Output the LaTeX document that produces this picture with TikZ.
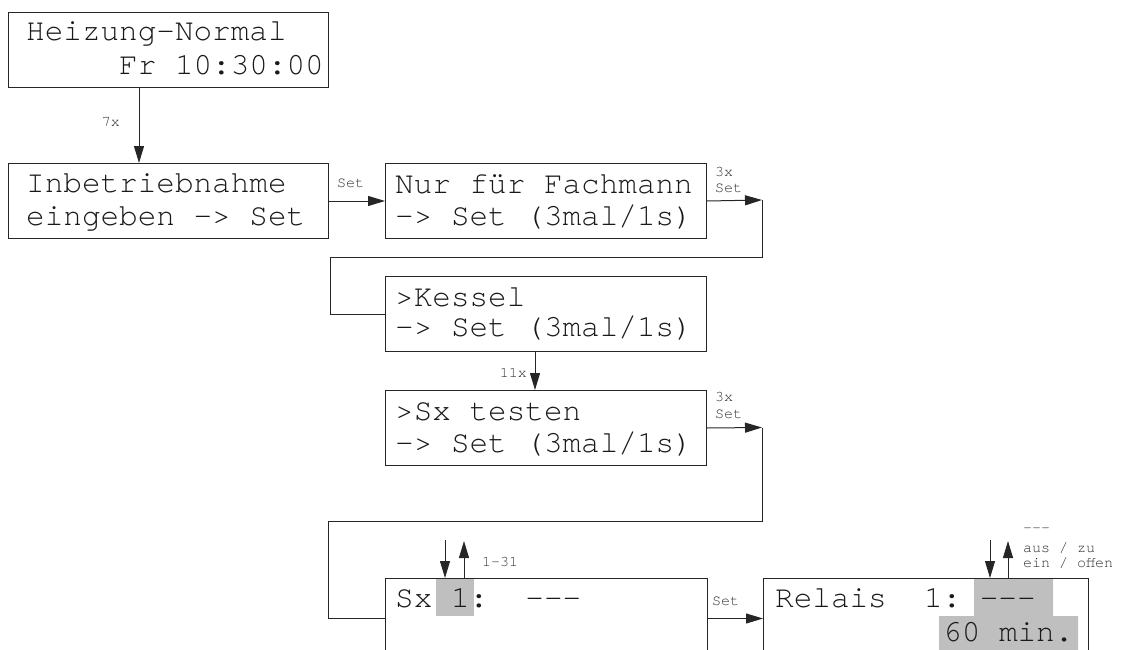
\documentclass[tikz,border=0pt]{standalone}
\usepackage{fontspec}
\setmonofont{TeX Gyre Cursor}
\usetikzlibrary{arrows.meta}
\begin{document}
\begin{tikzpicture}[x=1pt,y=-1pt,
  box/.style={draw=black!85, line width=1pt, anchor=north west, inner sep=0pt, minimum height=75pt},
  lcd/.style={font=\ttfamily\fontsize{31}{35}\selectfont, text=black!90, inner sep=0pt, anchor=base west},
  lbl/.style={font=\ttfamily\fontsize{15}{15}\selectfont, text=black!80, inner sep=0pt, anchor=base west},
  lble/.style={lbl, anchor=base east},
  arr/.style={draw=black!85, line width=1pt, -{Triangle[length=17pt,width=10pt]}},
  wire/.style={draw=black!85, line width=1pt},
  hl/.style={fill=black!25}
]
\path[use as bounding box, clip] (0,0) rectangle (1129,650);

% highlights
\fill[hl] (436,578) rectangle (474,616);
\fill[hl] (974,578) -- (1053,578) -- (1053,616) -- (1078,616) -- (1078,665)
  -- (939,665) -- (939,616) -- (974,616) -- cycle;

% boxes
\node[box, minimum width=320pt] (A) at (8,12) {};
\node[box, minimum width=320pt] (B) at (8,163) {};
\node[box, minimum width=321pt] (C) at (385,163) {};
\node[box, minimum width=321pt] (D) at (385,276) {};
\node[box, minimum width=321pt] (E) at (385,390) {};
\node[box, minimum width=322pt, minimum height=80pt] (F) at (385,578) {};
\node[box, minimum width=325pt, minimum height=80pt] (G) at (763,578) {};

% texts
\node[lcd] (A1) at (26,41) {Heizung-Normal};
\node[lcd] (A2) at (119,75) {Fr 10:30:00};
\node[lcd] (B1) at (26,192) {Inbetriebnahme};
\node[lcd] (B2) at (26,225) {eingeben -> Set};
\node[lcd] (C1) at (395,193) {Nur für Fachmann};
\node[lcd] (C2) at (395,225) {-> Set (3mal/1s)};
\node[lcd] (D1) at (395,306) {>Kessel};
\node[lcd] (D2) at (395,336) {-> Set (3mal/1s)};
\node[lcd] (E1) at (395,420) {>Sx testen};
\node[lcd] (E2) at (395,452) {-> Set (3mal/1s)};
\node[lcd] (F1) at (395,607) {Sx~1:~~---};
\node[lcd] (G1) at (775,607) {Relais~~1:~---};
\node[lcd] (G2) at (943,641) {60 min.};

% connectors
\draw[arr] ([xshift=131pt]A.south west) -- ([xshift=131pt]B.north west);
\node[lble] (l7x) at (120,127) {7x};

\draw[arr] (B.east) -- (C.west);
\node[lbl] (lset1) at (337,187) {Set};

\coordinate (c1) at (762,200);
\coordinate (c2) at (330,257);
\draw[arr] (C.east) -- (c1);
\draw[wire] (c1) |- (c2) |- (D.west);
\node[lbl] (l3x1) at (715,176) {3x};
\node[lbl] (lset2) at (715,192) {Set};

\draw[arr] ([xshift=150pt]D.south west) -- ([xshift=150pt]E.north west);
\node[lble] (l11x) at (527,377) {11x};

\coordinate (e1) at (762,427.5);
\coordinate (e2) at (328,521);
\draw[arr] (E.east) -- (e1);
\draw[wire] (e1) |- (e2) |- (F.west);
\node[lbl] (l3x2) at (715,401) {3x};
\node[lbl] (lset3) at (715,418) {Set};

\draw[arr] (F.east) -- (G.west);
\node[lbl] (lset4) at (712,605) {Set};

\coordinate (fd) at (445,540);
\coordinate (fu) at (464,541);
\draw[arr] (fd) -- (fd |- F.north);
\draw[arr] (fu |- F.north) -- (fu);
\node[lbl] (l131) at (482,566) {1-31};

\coordinate (gd) at (990,540);
\coordinate (gu) at (1008,541);
\draw[arr] (gd) -- (gd |- G.north);
\draw[arr] (gu |- G.north) -- (gu);
\node[lbl] (lg1) at (1023,532) {---};
\node[lbl] (lg2) at (1023,552) {aus / zu};
\node[lbl] (lg3) at (1023,567) {ein / offen};
\end{tikzpicture}
\end{document}
